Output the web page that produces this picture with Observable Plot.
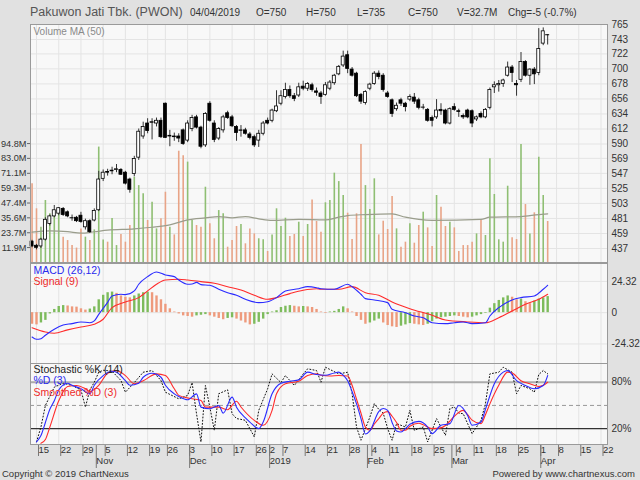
<!DOCTYPE html>
<html>
<head>
<meta charset="utf-8">
<script src="https://cdn.jsdelivr.net/npm/d3@7"></script>
<script src="https://cdn.jsdelivr.net/npm/@observablehq/plot@0.6"></script>
<style>
html,body{margin:0;padding:0;background:#e1e1e1;}
#wrap{position:relative;width:640px;height:480px;overflow:hidden;background:#e1e1e1;font-family:"Liberation Sans",Arial,sans-serif;color:#333;}
.t{position:absolute;white-space:nowrap;line-height:1;}
#wrap svg{position:absolute;left:0;}
</style>
</head>
<body>
<div id="wrap"></div>
<script>
// ---------------- DATA ----------------
const stockName = "Pakuwon Jati Tbk. (PWON)";
const lastDateLabel = "04/04/2019";

const dates = [
 "2018-10-12","2018-10-15","2018-10-16","2018-10-17","2018-10-18","2018-10-19",
 "2018-10-22","2018-10-23","2018-10-24","2018-10-25","2018-10-26",
 "2018-10-29","2018-10-30","2018-10-31","2018-11-01","2018-11-02",
 "2018-11-05","2018-11-06","2018-11-07","2018-11-08","2018-11-09",
 "2018-11-12","2018-11-13","2018-11-14","2018-11-15","2018-11-16",
 "2018-11-19","2018-11-21","2018-11-22","2018-11-23",
 "2018-11-26","2018-11-27","2018-11-28","2018-11-29","2018-11-30",
 "2018-12-03","2018-12-04","2018-12-05","2018-12-06","2018-12-07",
 "2018-12-10","2018-12-11","2018-12-12","2018-12-13","2018-12-14",
 "2018-12-17","2018-12-18","2018-12-19","2018-12-20","2018-12-21",
 "2018-12-26","2018-12-27","2018-12-28",
 "2019-01-02","2019-01-03","2019-01-04",
 "2019-01-07","2019-01-08","2019-01-09","2019-01-10","2019-01-11",
 "2019-01-14","2019-01-15","2019-01-16","2019-01-17","2019-01-18",
 "2019-01-21","2019-01-22","2019-01-23","2019-01-24","2019-01-25",
 "2019-01-28","2019-01-29","2019-01-30","2019-01-31","2019-02-01",
 "2019-02-04","2019-02-06","2019-02-07","2019-02-08",
 "2019-02-11","2019-02-12","2019-02-13","2019-02-14","2019-02-15",
 "2019-02-18","2019-02-19","2019-02-20","2019-02-21","2019-02-22",
 "2019-02-25","2019-02-26","2019-02-27","2019-02-28","2019-03-01",
 "2019-03-04","2019-03-05","2019-03-06","2019-03-08",
 "2019-03-11","2019-03-12","2019-03-13","2019-03-14","2019-03-15",
 "2019-03-18","2019-03-19","2019-03-20","2019-03-21","2019-03-22",
 "2019-03-25","2019-03-26","2019-03-27","2019-03-28","2019-03-29",
 "2019-04-01","2019-04-02","2019-04-04"
];
const futureDates = ["2019-04-05","2019-04-08","2019-04-09","2019-04-10","2019-04-11","2019-04-12",
 "2019-04-15","2019-04-16","2019-04-17","2019-04-18","2019-04-19","2019-04-22"];

const open = [447,441,440,450,473,484,488,495,490,482,482,485,468,477,478,493,539,549,550,552,
 552,548,538,546,570,601,620,621,620,624,649,601,601,601,610,595,612,629,614,588,
 649,620,598,610,635,629,615,609,610,604,600,595,605,624,624,638,649,659,669,660,
 661,674,671,676,667,664,662,671,679,692,705,720,699,693,662,650,671,678,693,690,
 664,654,641,654,649,655,658,654,644,640,628,629,640,639,620,644,638,631,639,638,
 626,634,629,643,673,676,678,690,702,678,684,710,690,699,694,737,750];
const high = [449,443,452,482,486,500,497,497,492,486,484,490,480,479,495,550,552,553,556,560,
 554,550,540,572,612,622,627,627,628,628,650,610,606,605,612,624,632,632,616,636,
 652,624,614,632,638,632,617,617,613,607,603,610,623,628,641,668,668,679,675,664,
 679,682,680,679,672,667,680,683,692,705,726,726,702,695,664,668,679,696,697,693,
 667,656,650,657,651,662,664,657,648,642,631,655,649,641,643,649,641,634,641,640,
 631,637,642,672,681,683,685,710,705,683,724,712,700,702,759,760,750];
const low = [438,435,437,448,470,482,485,484,482,477,475,474,464,459,476,491,535,543,545,548,
 544,530,518,542,566,597,605,596,615,598,598,586,594,592,588,592,608,612,583,585,
 622,592,595,606,626,614,594,600,603,596,585,585,602,618,621,636,646,656,657,652,
 658,668,667,666,660,648,660,668,676,690,702,693,688,658,648,647,668,676,684,666,
 657,629,638,645,637,652,648,640,640,622,615,626,632,618,618,638,629,626,627,614,
 623,627,627,640,664,666,673,688,680,660,680,688,676,677,690,734,735];
const close = [440,438,450,479,484,493,496,486,484,482,477,476,477,461,492,538,548,548,551,553,
 545,532,523,568,608,615,609,622,624,600,599,602,600,598,590,620,628,614,586,634,
 624,596,612,629,628,616,606,610,605,599,588,605,620,620,639,645,660,669,660,656,
 673,671,678,669,665,659,676,680,690,703,718,700,690,660,652,666,677,693,688,669,
 659,634,646,649,644,659,652,643,644,624,624,639,638,620,641,640,637,629,629,620,
 629,629,640,669,676,678,683,702,694,676,710,690,699,692,729,755,750];
// volume in millions of shares
const volume = [62.7,42.8,28,49.4,38.8,41.4,38.8,20.2,17.5,13.5,11.5,26.8,20.2,17.5,26,92,18,16.2,35,13.5,
 22.3,16.2,29.5,68,61.3,54.7,33.5,48,26.8,34.8,56,28,22,88.7,85,80,33.5,29.5,28,60,
 30.8,18.9,41.4,38.8,12.2,17.5,28.7,30.3,14.9,26.8,22.8,18.9,18.1,8.8,22,42.8,28.7,35.3,20.7,22.3,
 32.1,20.7,30.3,49.9,32.7,24.2,47.6,49.4,71.2,64.5,53.4,39.3,18.3,38.8,94,61.3,42.2,66.7,22,32.9,
 26.3,52.6,26.8,12.2,16.2,30.8,15.4,29.5,40.1,27.6,12.7,53.4,44,28.7,32.1,27.6,8.8,13.5,13.5,16.2,
 22.8,34,21.5,82.6,54.2,18.1,16.2,60.8,19.7,18.3,94,46.2,22.8,39.6,83.9,53.4,32.7];

// readings of the indicator lines: [trading-day number in `dates`, value]
const volumeMA50 = [[0,24.2],[4,25.2],[8,24.6],[11,23.4],[14,24.5],[17,25.8],[23,26.8],[27,28.1],[31,30],
 [35,34],[39,35.6],[42,36.6],[45,35.6],[48,36.6],[51,34.8],[54,33.5],[60,34.3],[66,34],[69,36.1],
 [71,37.4],[75,38.2],[81,38.8],[84,36.1],[87,34.3],[90,33.5],[101,34.3],[103,36.1],[110,36.6],[114,38.2],[116,38.8]];

const macdLine = [[0,-18.9],[1,-20.7],[2,-20.2],[3,-17.5],[5,-12.9],[7,-9.6],[9,-8.5],[11,-7.2],[13,-7.8],
 [14,-6.4],[15,-1.3],[17,8],[18,13],[20,14.3],[21,14],[23,16.9],[24,22.1],[26,28],[28,31.6],[30,29.3],
 [32,28],[33,25.4],[35,22.1],[36,22.3],[37,23.5],[38,21.8],[40,21.3],[42,18.2],[44,15.5],[46,13.5],
 [48,10.4],[51,7.8],[53,8.5],[55,11.7],[57,16.9],[60,18.6],[62,20.2],[64,19.4],[65,18.6],[68,18.2],
 [71,22.1],[72,20.2],[74,14.3],[75,10.9],[77,9.9],[80,7.8],[81,2.6],[84,0],[86,-2.6],[88,-3.9],
 [90,-7.8],[93,-8.5],[95,-7.8],[97,-7.2],[99,-8.5],[102,-7.8],[103,-2.6],[105,3.9],[108,9.9],
 [110,11.7],[113,13],[115,18.2],[116,21.3]];
const signalLine = [[0,-11.7],[3,-15],[5,-16],[8,-13.4],[11,-11.1],[14,-9],[16,-5.1],[18,3.9],[21,8.3],
 [24,11.7],[26,16.9],[28,22.1],[30,25.4],[33,26],[35,25.4],[38,24.1],[41,22.8],[44,20.2],[47,17.6],
 [50,13.5],[53,10.4],[55,11.7],[58,14.8],[61,17.4],[64,18.6],[65,18.2],[69,18.2],[72,20.2],[75,15.5],
 [78,13.5],[81,8.3],[85,3.1],[90,-2],[93,-5.7],[98,-7.2],[102,-7.8],[105,-3.9],[108,1.3],[111,6.5],
 [114,10.4],[116,14.3]];
// MACD histogram, one value per trading day
const macdHist = [-9,-9.5,-8,-6,-1,2.5,4.8,5.5,5.2,4.5,4.3,3,2,2.8,4.5,10,13.5,15.5,16,15,
 13,12,11.5,13,14.5,15.5,16,15.5,13,10,6.5,3,0.5,-1,-2.5,-3,-3.5,-2.5,-2,-1.5,
 -2.5,-3.5,-4.5,-5.5,-4.5,-4,-5,-6.5,-8,-9.5,-9,-7.5,-5,-1.5,0.5,1.5,4,5,5.5,5,
 4.5,4.8,4.5,4,2.5,0.5,-0.5,0.5,1,2.5,4.5,3,0.5,-3,-6,-9,-8,-6.5,-5,-8,
 -10,-11,-11.5,-10.5,-9.5,-8.5,-9,-9.5,-10,-9,-7,-5,-4,-3.5,-3,-2.5,-3,-3.5,-4,-3.5,
 -2.5,-1.5,-0.5,3.5,7,9.5,11.5,13,12,10,10.5,8.5,7,9,10.5,11.5,12.5];

const stochK = [[1,3],[2,22],[3,50],[5,73.6],[7,78.7],[9,75.8],[11,70],[12,47.8],[13,70],[14,80],[15,92.9],
 [16,95.5],[17,95],[18,94.2],[20,82.2],[21,67.1],[23,79.5],[25,92.9],[27,95.1],[29,82.2],[30,67.1],
 [33,58.6],[35,62.9],[36,79.5],[37,39.3],[38,2.8],[39,75.8],[40,47.8],[41,17.8],[42,65.1],[44,70.2],
 [45,39.3],[46,33],[47,32],[48,30.7],[50,9.3],[51,43.6],[53,71.5],[54,90.8],[56,79.5],[57,88.6],
 [59,75.8],[61,90.8],[62,97.3],[64,95.1],[65,80],[66,99.4],[69,90.8],[71,92.9],[72,65.1],[73,22.1],
 [74,5],[75,20],[76,35],[77,52.2],[78,45],[79,40],[80,20],[81,5],[82,26.5],[84,22.1],[85,43.6],
 [86,17.8],[88,22.1],[89,2.8],[91,32.9],[92,22.1],[93,11.4],[94,45.8],[95,48],[96,40],[97,39.3],
 [99,13.6],[101,30.7],[102,52.2],[103,90.8],[105,92.9],[106,99.4],[108,92.9],[109,65.1],[110,75.8],
 [112,71.5],[113,67.1],[114,90],[115,95.1],[116,90.8]];
const stochD = [[1,3],[2,11],[3,28],[4,45],[5,56],[6,70],[8,78.7],[9,76],[11,71.5],[13,65],[14,76],
 [16,88.6],[18,94.2],[19,93],[21,82],[22,76],[24,78.7],[25,86.4],[27,91.6],[29,86.4],[30,76],[32,65],
 [33,61.6],[35,57.3],[37,65],[38,47.8],[40,45.8],[42,50],[43,40],[45,60.7],[46,47.8],[48,34],[49,28.5],
 [51,20],[52,28.5],[54,65],[56,78.7],[58,81.3],[60,83],[62,93],[64,90],[66,89],[68,92],[69,93],[70,89],
 [71,82],[72,68],[73,52],[74,33],[75,13],[76,17],[78,42],[79,46],[80,43.6],[81,28],[82,17],[83,15.6],
 [84,20],[85,25.6],[87,29.4],[89,22.1],[90,13.6],[92,24.3],[94,26.5],[96,50],[98,37],[99,24.3],
 [101,28.5],[102,45],[104,78],[106,93],[107,95],[109,82],[111,75.8],[113,71.5],[115,75.8],[116,88.6]];
const stochSmoothD = [[2,1],[3,6],[4,22],[6,56],[8,74.5],[10,75.8],[12,71.5],[13,68],[15,76],[17,91.6],
 [19,95],[21,88.6],[23,78],[25,82],[28,90.8],[30,88.6],[32,71.5],[33,63],[36,58.6],[38,56.4],[39,47.8],
 [42,47.8],[44,44.5],[46,55.5],[47,48],[50,30.7],[52,24.3],[54,43.6],[55,65],[57,77.9],[60,81.3],
 [62,88.6],[64,91],[65,89],[67,88],[69,88.6],[71,88],[72,76],[73,58],[74,40],[75,22],[76,18],[77,26],
 [78,33],[79,40],[80,42],[81,36],[82,28],[83,18],[84,18],[85,23],[87,27],[88,25],[90,20],[92,21],
 [93,24],[95,36],[97,43.6],[98,38],[99,31],[101,26.5],[102,38],[103,52],[105,76],[107,93],[108,92],
 [110,82],[112,78],[114,74.5],[115,76],[116,80]];

// axis ticks
const priceTicks = [765,743,722,700,678,656,634,612,590,569,547,525,503,481,459,437];
const volumeTicks = [11.9,23.7,35.6,47.4,59.3,71.1,83.0,94.8];
const macdTicks = [24.32,0,-24.32];
const stochTicks = [80,20];
const weekTickDates = ["2018-10-15","2018-10-22","2018-10-29","2018-11-05","2018-11-12","2018-11-19",
 "2018-11-26","2018-12-03","2018-12-10","2018-12-17","2018-12-26","2019-01-02","2019-01-07","2019-01-14",
 "2019-01-21","2019-01-28","2019-02-04","2019-02-11","2019-02-18","2019-02-25","2019-03-04","2019-03-11",
 "2019-03-18","2019-03-25","2019-04-01","2019-04-08","2019-04-15","2019-04-22"];
const monthTickDates = ["2018-11-01","2018-12-03","2019-01-02","2019-02-01","2019-03-01","2019-04-01"];
const monthTickLabels = ["Nov","Dec","2019","Feb","Mar","Apr"];

// ---------------- BUILD ----------------
const allDates = dates.concat(futureDates);
const posOf = d => allDates.indexOf(d);
const weekPos = weekTickDates.map(posOf);
const weekLabel = new Map(weekTickDates.map(d => [posOf(d), String(+d.slice(8))]));
const monthPos = monthTickDates.map(posOf);
const monthLabel = new Map(monthTickDates.map((d, i) => [posOf(d), monthTickLabels[i]]));

const candles = dates.map((d, i) => ({pos: i, o: open[i], h: high[i], l: low[i], c: close[i], v: volume[i],
  up: close[i] > open[i] || (close[i] === open[i] && (i === 0 || close[i] >= close[i - 1]))}));
const hist = macdHist.map((v, i) => ({pos: i, v, up: i > 0 && v > macdHist[i - 1]}));

const W = 640, ML = 30, MR = 33;
const xOpt = {domain: [-0.35, 129.46]};
const GRID = "#e4e4e4", PANEL = "#f8f8f8", BORDER = "#9a9a9a";
const FONT = "Liberation Sans, Arial, sans-serif";
const baseStyle = {background: "transparent", fontFamily: FONT, fontSize: "10px", color: "#333", overflow: "visible"};
const VG = "#8fbf73", VO = "#e8a487";     // volume colours
const HG = "#7dbb5c", HO = "#ee9a7c";     // histogram colours
const BLUE = "#2b2bff", RED = "#ff2b2b";
const wrap = document.getElementById("wrap");
function place(svg, top) { svg.style.top = top + "px"; wrap.appendChild(svg); }
function addText(txt, style) {
  const el = document.createElement("div"); el.className = "t"; el.textContent = txt;
  Object.assign(el.style, style); wrap.appendChild(el);
}

// header
const last = candles[candles.length - 1], prev = candles[candles.length - 2];
const chg = last.c - prev.c;
addText(stockName, {left: "30px", top: "6px", fontSize: "12.5px", color: "#555"});
const hdr = [lastDateLabel, `O=${last.o}`, `H=${last.h}`, `L=${last.l}`, `C=${last.c}`,
  `V=${last.v.toFixed(1)}M`, `Chg=${chg} (${(chg / prev.c * 100).toFixed(1)}%)`];
const hdrX = [190, 256, 306, 357, 408, 457, 508];
hdr.forEach((t, i) => addText(t, {left: hdrX[i] + "px", top: "8px", fontSize: "10px", color: "#333"}));

// layer 1: price-panel background + grid
place(Plot.plot({
  width: W, height: 263, marginLeft: ML, marginRight: MR, marginTop: 24, marginBottom: 1,
  style: baseStyle, x: {...xOpt, axis: null}, y: {domain: [416.5, 765], axis: null},
  marks: [
    Plot.frame({fill: PANEL, stroke: null}),
    Plot.ruleX(weekPos, {stroke: GRID}),
    Plot.ruleY(priceTicks, {stroke: GRID})
  ]
}), 0);

// layer 2: volume bars + MA + left axis
place(Plot.plot({
  width: W, height: 263, marginLeft: ML, marginRight: MR, marginTop: 24, marginBottom: 1,
  style: baseStyle, x: {...xOpt, axis: null}, y: {domain: [0, 189.7]},
  marks: [
    Plot.ruleX(candles, {x: "pos", y1: 0, y2: "v", stroke: d => d.up ? VG : VO, strokeWidth: 1.6}),
    Plot.line(volumeMA50, {x: d => d[0], y: d => d[1], stroke: "#9a9d8c", strokeWidth: 1.2, curve: "monotone-x"}),
    Plot.axisY({anchor: "left", ticks: volumeTicks, tickFormat: d => d.toFixed(1) + "M", tickSize: 3,
      tickPadding: 1, label: null, fontSize: 9.2, stroke: "#666", fill: "#333"})
  ]
}), 0);

// layer 3: candles + right axis
place(Plot.plot({
  width: W, height: 263, marginLeft: ML, marginRight: MR, marginTop: 24, marginBottom: 1,
  style: baseStyle, x: {...xOpt, axis: null}, y: {domain: [416.5, 765]},
  marks: [
    Plot.ruleX(candles, {x: "pos", y1: "l", y2: "h", stroke: "#333", strokeWidth: 1}),
    Plot.rect(candles.filter(d => d.o !== d.c), {x1: d => d.pos - 0.34, x2: d => d.pos + 0.34, y1: "o", y2: "c",
      fill: d => d.c > d.o ? "#ffffff" : "#000000", stroke: "#000", strokeWidth: 0.8}),
    Plot.ruleY(candles.filter(d => d.o === d.c), {y: "c", x1: d => d.pos - 0.45, x2: d => d.pos + 0.45, stroke: "#000"}),
    Plot.text(["Volume MA (50)"], {frameAnchor: "top-left", dx: 3, dy: 3, lineAnchor: "top", textAnchor: "start", fill: "#8a8a8a", fontSize: 10}),
    Plot.axisY({anchor: "right", ticks: priceTicks, tickFormat: d => String(d), tickSize: 0, tickPadding: 4, label: null, fontSize: 10, fill: "#333"}),
    Plot.frame({stroke: BORDER})
  ]
}), 0);

// MACD panel
place(Plot.plot({
  width: W, height: 100, marginLeft: ML, marginRight: MR, marginTop: 0, marginBottom: 0,
  style: baseStyle, x: {...xOpt, axis: null}, y: {domain: [-39.5, 38.2]},
  marks: [
    Plot.frame({fill: PANEL, stroke: null}),
    Plot.ruleX(weekPos, {stroke: GRID}),
    Plot.ruleY(macdTicks, {stroke: GRID}),
    Plot.ruleX(hist, {x: "pos", y1: 0, y2: "v", stroke: d => d.up ? HG : HO, strokeWidth: 2.4}),
    Plot.line(signalLine, {x: d => d[0], y: d => d[1], stroke: RED, strokeWidth: 1.1, curve: "monotone-x"}),
    Plot.line(macdLine, {x: d => d[0], y: d => d[1], stroke: BLUE, strokeWidth: 1.1, curve: "monotone-x"}),
    Plot.text(["MACD (26,12)"], {frameAnchor: "top-left", dx: 3, dy: 3, lineAnchor: "top", textAnchor: "start", fill: "#2a2aee", fontSize: 10.5}),
    Plot.text(["Signal (9)"], {frameAnchor: "top-left", dx: 3, dy: 14, lineAnchor: "top", textAnchor: "start", fill: "#ee2a2a", fontSize: 10.5}),
    Plot.axisY({anchor: "right", ticks: macdTicks, tickFormat: d => d === 0 ? "0" : d.toFixed(2), tickSize: 0, tickPadding: 4, label: null, fontSize: 10, fill: "#333"}),
    Plot.frame({stroke: BORDER})
  ]
}), 263);

// Stochastic panel + time axis
place(Plot.plot({
  width: W, height: 117, marginLeft: ML, marginRight: MR, marginTop: 0, marginBottom: 36,
  style: baseStyle, x: xOpt, y: {domain: [-0.5, 104.2]},
  marks: [
    Plot.frame({fill: PANEL, stroke: null}),
    Plot.ruleX(weekPos, {stroke: GRID}),
    Plot.ruleY([80], {stroke: "#ababab", strokeWidth: 2}),
    Plot.ruleY([50], {stroke: "#999", strokeDasharray: "4,3"}),
    Plot.ruleY([20], {stroke: "#333", strokeWidth: 1.2}),
    Plot.line(stochK, {x: d => d[0], y: d => d[1], stroke: "#111", strokeWidth: 1, strokeDasharray: "1,2.2"}),
    Plot.line(stochSmoothD, {x: d => d[0], y: d => d[1], stroke: RED, strokeWidth: 1.1, curve: "monotone-x"}),
    Plot.line(stochD, {x: d => d[0], y: d => d[1], stroke: BLUE, strokeWidth: 1.1, curve: "monotone-x"}),
    Plot.text(["Stochastic %K (14)"], {frameAnchor: "top-left", dx: 3, dy: 2, lineAnchor: "top", textAnchor: "start", fill: "#222", fontSize: 10.5}),
    Plot.text(["%D (3)"], {frameAnchor: "top-left", dx: 3, dy: 13.5, lineAnchor: "top", textAnchor: "start", fill: "#2a2aee", fontSize: 10.5}),
    Plot.text(["Smoothed %D (3)"], {frameAnchor: "top-left", dx: 3, dy: 25, lineAnchor: "top", textAnchor: "start", fill: "#ee2a2a", fontSize: 10.5}),
    Plot.axisY({anchor: "right", ticks: stochTicks, tickFormat: d => d + "%", tickSize: 0, tickPadding: 4, label: null, fontSize: 10, fill: "#333"}),
    Plot.axisX({ticks: weekPos, tickFormat: p => weekLabel.get(p), tickSize: 12, tickPadding: -10, textAnchor: "start", dx: 2, label: null, fontSize: 9.5, stroke: "#777", fill: "#333"}),
    Plot.axisX({ticks: monthPos, tickFormat: p => monthLabel.get(p), tickSize: 24, tickPadding: -11, textAnchor: "start", dx: 2, label: null, fontSize: 9.5, stroke: "#777", fill: "#333"}),
    Plot.frame({stroke: BORDER})
  ]
}), 363);

// footer
addText("Copyright \u00a9 2019 ChartNexus", {left: "2px", top: "469px", fontSize: "9.5px", color: "#333"});
addText("Powered by www.chartnexus.com", {right: "5px", top: "469px", fontSize: "9.5px", color: "#333"});
</script>
</body>
</html>
